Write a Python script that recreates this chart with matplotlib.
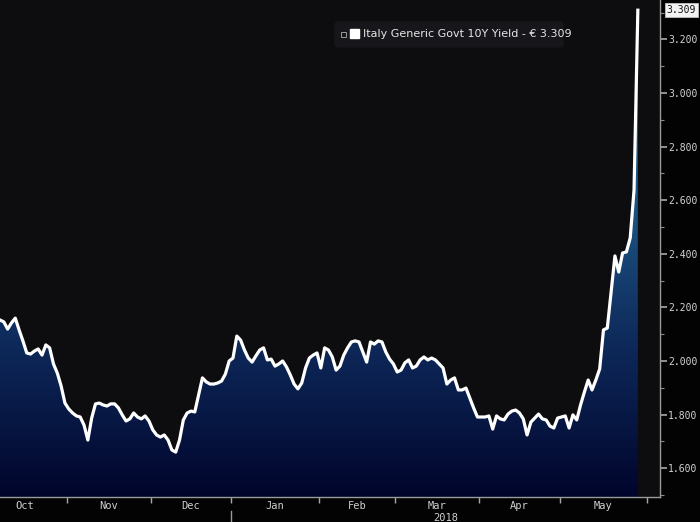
import matplotlib
matplotlib.use('Agg')
import matplotlib.pyplot as plt
import numpy as np
import pandas as pd
from matplotlib.colors import LinearSegmentedColormap
from matplotlib.patches import FancyBboxPatch, Rectangle
from matplotlib.transforms import blended_transform_factory
from matplotlib.ticker import FixedLocator, MultipleLocator

# Italy generic govt 10Y yield, business days 6 Oct 2017 .. 29 May 2018
start_date = '2017-10-06'
end_date = '2018-05-29'
yields = [
    2.153, 2.146, 2.119, 2.142, 2.160, 2.116, 2.075, 2.030, 2.026, 2.037,
    2.045, 2.022, 2.060, 2.049, 1.989, 1.955, 1.907, 1.843, 1.821, 1.806,
    1.795, 1.791, 1.761, 1.705, 1.787, 1.840, 1.843, 1.836, 1.832, 1.840,
    1.840, 1.825, 1.799, 1.776, 1.784, 1.806, 1.791, 1.784, 1.795, 1.776,
    1.743, 1.724, 1.716, 1.724, 1.705, 1.668, 1.660, 1.705, 1.780, 1.806,
    1.813, 1.810, 1.873, 1.937, 1.922, 1.914, 1.914, 1.918, 1.925, 1.951,
    2.000, 2.011, 2.093, 2.078, 2.041, 2.011, 1.996, 2.019, 2.041, 2.049,
    2.004, 2.007, 1.981, 1.989, 2.000, 1.978, 1.948, 1.914, 1.896, 1.918,
    1.974, 2.011, 2.022, 2.030, 1.974, 2.049, 2.041, 2.015, 1.966, 1.981,
    2.022, 2.049, 2.071, 2.075, 2.071, 2.034, 1.996, 2.071, 2.063, 2.075,
    2.071, 2.034, 2.007, 1.989, 1.959, 1.966, 1.993, 2.004, 1.974, 1.981,
    2.004, 2.015, 2.004, 2.011, 2.004, 1.989, 1.974, 1.914, 1.929, 1.937,
    1.892, 1.892, 1.899, 1.862, 1.825, 1.791, 1.791, 1.791, 1.795, 1.746,
    1.795, 1.784, 1.780, 1.802, 1.813, 1.817, 1.806, 1.784, 1.724, 1.772,
    1.787, 1.802, 1.784, 1.780, 1.757, 1.750, 1.787, 1.791, 1.795, 1.750,
    1.799, 1.780, 1.836, 1.884, 1.929, 1.892, 1.929, 1.970, 2.116, 2.123,
    2.257, 2.392, 2.332, 2.403, 2.407, 2.459, 2.638, 3.309,
]
y_ticks = [1.6, 1.8, 2.0, 2.2, 2.4, 2.6, 2.8, 3.0, 3.2]
legend_label = 'Italy Generic Govt 10Y Yield - € 3.309'
last_label = '3.309'

dates = pd.bdate_range(start_date, end_date)
idx = np.arange(len(dates))
vals = np.array(yields[:len(dates)])

# extended calendar (whole months) for tick / label placement
ext = pd.bdate_range('2017-10-01', '2018-06-01')
offset = list(ext).index(pd.Timestamp(start_date))
ext_idx = np.arange(len(ext)) - offset
months = pd.Series(ext_idx, index=ext).groupby([ext.year, ext.month])

ymin, ymax = 1.4925, 3.347
xmin, xmax = 0, 172.8

fig = plt.figure(figsize=(7, 5.22), dpi=100, facecolor='#030304')
ax = fig.add_axes([0, 25 / 522, 660 / 700, 497 / 522])
ax.set_facecolor('#0d0d10')

# gradient area under the line
cmap = LinearSegmentedColormap.from_list('bbg', [
    (0.0, '#01052c'), (0.3, '#0d2859'), (0.55, '#1b4f7e'),
    (1.0, '#2a7ca2')])
grad = np.linspace(0, 1, 256).reshape(-1, 1)
im = ax.imshow(grad, extent=[xmin, xmax, ymin, ymax], origin='lower',
               aspect='auto', cmap=cmap, zorder=1)
poly = ax.fill_between(idx, vals, ymin, color='none', lw=0)
im.set_clip_path(poly.get_paths()[0], transform=ax.transData)

ax.plot(idx, vals, color='white', lw=2.3, zorder=3, solid_joinstyle='round')

ax.set_xlim(xmin, xmax)
ax.set_ylim(ymin, ymax)

# y axis on the right
ax.yaxis.tick_right()
ax.yaxis.set_major_locator(FixedLocator(y_ticks))
ax.yaxis.set_minor_locator(MultipleLocator(0.1))
ax.set_yticklabels(['%.3f' % t for t in y_ticks])
ax.tick_params(axis='y', which='major', direction='out', length=5, width=1.2,
               colors='#a8a8a8', labelcolor='#d4d4d4', labelsize=7, pad=1)
ax.tick_params(axis='y', which='minor', direction='out', length=3, width=0.8,
               colors='#8a8a8a')
for lab in ax.get_yticklabels():
    lab.set_family('DejaVu Sans Mono')

# x axis: ticks at month boundaries, labels centred in month
first_days = [g.iloc[0] for (_, _), g in months][1:]
bounds = [f - 0.5 for f in first_days]
ax.xaxis.set_major_locator(FixedLocator(bounds))
ax.set_xticklabels([])
ax.tick_params(axis='x', direction='out', length=4, width=1, colors='#a8a8a8')

trans = blended_transform_factory(ax.transData, fig.transFigure)
for (yr, mo), g in months:
    if yr == 2018 and mo == 6:
        continue
    c = (g.iloc[0] + g.iloc[-1]) / 2
    name = pd.Timestamp(year=yr, month=mo, day=1).strftime('%b')
    ax.text(c, 16 / 522, name, transform=trans, ha='center', va='center',
            color='#cfcfcf', fontsize=7.5, family='DejaVu Sans Mono')

jan = [g.iloc[0] for (yr, mo), g in months if yr == 2018 and mo == 1][0] - 0.5
ax.text((jan + xmax) / 2, 4 / 522, '2018', transform=trans, ha='center',
        va='center', color='#cfcfcf', fontsize=7.5, family='DejaVu Sans Mono')
ax.plot([jan, jan], [0, 11 / 522], transform=trans, color='#9a9a9a', lw=1,
        clip_on=False)

for s in ['top', 'left']:
    ax.spines[s].set_visible(False)
for s in ['right', 'bottom']:
    ax.spines[s].set_color('#9a9a9a')
    ax.spines[s].set_linewidth(1)

# last value tag
ax.text(1.01, vals[-1], last_label, transform=blended_transform_factory(
    ax.transAxes, ax.transData), ha='left', va='center', fontsize=7,
    color='#101010', family='DejaVu Sans Mono',
    bbox=dict(boxstyle='square,pad=0.2', fc='#f2f2f2', ec='#c0c0c0', lw=0.6),
    clip_on=False)

# legend box
fig.patches.append(FancyBboxPatch((335 / 700, (522 - 47) / 522), 228 / 700,
                                  25 / 522, boxstyle='round,pad=0,rounding_size=0.006',
                                  transform=fig.transFigure, fc='#17171b',
                                  ec='#17171b', zorder=5))
fig.patches.append(Rectangle((341 / 700, (522 - 37) / 522), 5 / 700, 5 / 522,
                             transform=fig.transFigure, fc='none',
                             ec='#9a9a9a', lw=0.7, zorder=6))
fig.patches.append(Rectangle((350 / 700, (522 - 38) / 522), 9 / 700, 9 / 522,
                             transform=fig.transFigure, fc='white',
                             ec='white', zorder=6))
fig.text(363 / 700, (522 - 34) / 522, legend_label, ha='left', va='center',
         color='#e6e6e6', fontsize=8, zorder=7)

fig.savefig('out.png', dpi=100, facecolor=fig.get_facecolor())
